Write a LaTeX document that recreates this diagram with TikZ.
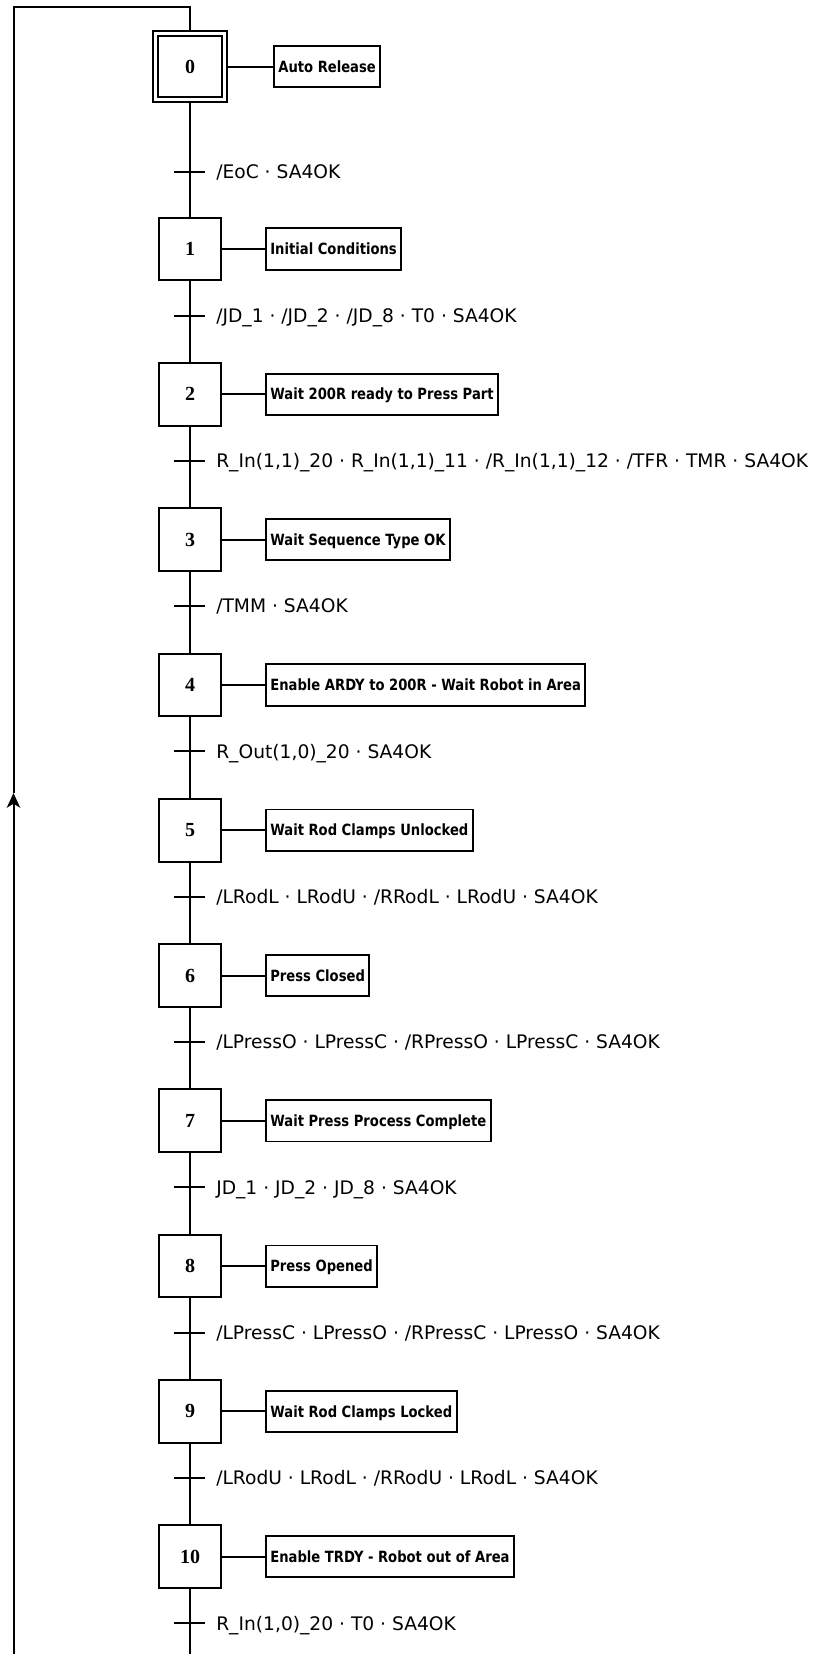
\documentclass[tikz,border=0pt]{standalone}
\usepackage{fontspec}
\usetikzlibrary{arrows.meta}
\newfontfamily\trfont{DejaVu Sans}
\newfontfamily\acfont{DejaVu Sans}
\newfontfamily\numfont{Liberation Serif}
\newcommand\actxt[1]{\scalebox{0.85}[1]{#1}}
\begin{document}
\begin{tikzpicture}[x=0.75pt,y=-0.75pt,
  ln/.style={line width=1.5pt},
  stepbox/.style={draw,line width=1.5pt,minimum width=47pt,minimum height=47pt,inner sep=0pt,
    font=\fontsize{15}{18}\numfont\bfseries},
  initbox/.style={draw,line width=1.1pt,double,double distance=2.6pt,minimum width=51.5pt,minimum height=49.5pt,inner sep=0pt,
    font=\fontsize{15}{18}\numfont\bfseries},
  actbox/.style={draw,line width=1.4pt,anchor=west,minimum height=31pt,inner xsep=3.3pt,inner ysep=0pt,
    text height=8.5pt,text depth=0pt,font=\fontsize{11.6}{14}\acfont\bfseries},
  trlab/.style={anchor=base west,inner sep=0pt,font=\fontsize{14}{16}\trfont},
  tick/.style={line width=1.5pt}
]
\useasboundingbox (0,0) rectangle (825,1654);

% steps
\node[initbox] (s0) at (190,66.5) {0};
\node[stepbox] (s1) at (190,249) {1};
\node[stepbox] (s2) at (190,394.3) {2};
\node[stepbox] (s3) at (190,539.6) {3};
\node[stepbox] (s4) at (190,684.9) {4};
\node[stepbox] (s5) at (190,830.2) {5};
\node[stepbox] (s6) at (190,975.5) {6};
\node[stepbox] (s7) at (190,1120.8) {7};
\node[stepbox] (s8) at (190,1266.1) {8};
\node[stepbox] (s9) at (190,1411.4) {9};
\node[stepbox] (s10) at (190,1556.7) {10};

% actions
\node[actbox] (a0) at (273,66.5) {\actxt{Auto Release}};
\node[actbox] (a1) at (265,249) {\actxt{Initial Conditions}};
\node[actbox] (a2) at (265,394.3) {\actxt{Wait 200R ready to Press Part}};
\node[actbox] (a3) at (265,539.6) {\actxt{Wait Sequence Type OK}};
\node[actbox] (a4) at (265,684.9) {\actxt{Enable ARDY to 200R - Wait Robot in Area}};
\node[actbox] (a5) at (265,830.2) {\actxt{Wait Rod Clamps Unlocked}};
\node[actbox] (a6) at (265,975.5) {\actxt{Press Closed}};
\node[actbox] (a7) at (265,1120.8) {\actxt{Wait Press Process Complete}};
\node[actbox] (a8) at (265,1266.1) {\actxt{Press Opened}};
\node[actbox] (a9) at (265,1411.4) {\actxt{Wait Rod Clamps Locked}};
\node[actbox] (a10) at (265,1556.7) {\actxt{Enable TRDY - Robot out of Area}};

\draw[ln,shorten <=1.9pt] (s0.east) -- (a0.west);
\foreach \i in {1,...,10} { \draw[ln] (s\i.east) -- (a\i.west); }

% transitions
\coordinate (t0) at (190,172);
\coordinate (t1) at (190,315.5);
\coordinate (t2) at (190,460.8);
\coordinate (t3) at (190,606);
\coordinate (t4) at (190,751.4);
\coordinate (t5) at (190,896.7);
\coordinate (t6) at (190,1042);
\coordinate (t7) at (190,1187.3);
\coordinate (t8) at (190,1332.6);
\coordinate (t9) at (190,1477.9);
\coordinate (t10) at (190,1623.2);
\foreach \i in {0,...,10} { \draw[tick] ([xshift=-12pt]t\i) -- ([xshift=11.3pt]t\i); }

\node[trlab] (l0) at (216,178.8) {/EoC · SA4OK};
\node[trlab] (l1) at (216,322.3) {/JD\_1 · /JD\_2 · /JD\_8 · T0 · SA4OK};
\node[trlab] (l2) at (216,467.6) {R\_In(1,1)\_20 · R\_In(1,1)\_11 · /R\_In(1,1)\_12 · /TFR · TMR · SA4OK};
\node[trlab] (l3) at (216,612.8) {/TMM · SA4OK};
\node[trlab] (l4) at (216,758.2) {R\_Out(1,0)\_20 · SA4OK};
\node[trlab] (l5) at (216,903.5) {/LRodL · LRodU · /RRodL · LRodU · SA4OK};
\node[trlab] (l6) at (216,1048.8) {/LPressO · LPressC · /RPressO · LPressC · SA4OK};
\node[trlab] (l7) at (216,1194.1) {JD\_1 · JD\_2 · JD\_8 · SA4OK};
\node[trlab] (l8) at (216,1339.4) {/LPressC · LPressO · /RPressC · LPressO · SA4OK};
\node[trlab] (l9) at (216,1484.7) {/LRodU · LRodL · /RRodU · LRodL · SA4OK};
\node[trlab] (l10) at (216,1630) {R\_In(1,0)\_20 · T0 · SA4OK};

% main vertical line
\draw[ln,shorten <=1.9pt] (s0.south) -- (s1.north);
\foreach \i [evaluate=\i as \j using int(\i+1)] in {1,...,9} { \draw[ln] (s\i.south) -- (s\j.north); }
\coordinate (bot) at (190,1654);
\draw[ln] (s10.south) -- (bot);

% return loop
\coordinate (lb) at (13.5,1654);
\coordinate (la) at (13.5,793);
\coordinate (lt) at (13.5,7);
\coordinate (rt) at (190,7);
\draw[ln,-{Stealth[length=11pt,width=10pt,inset=3pt]}] (lb) -- (la);
\draw[ln,shorten >=1.9pt] (la) -- (lt) -- (rt) -- (s0.north);
\end{tikzpicture}
\end{document}
